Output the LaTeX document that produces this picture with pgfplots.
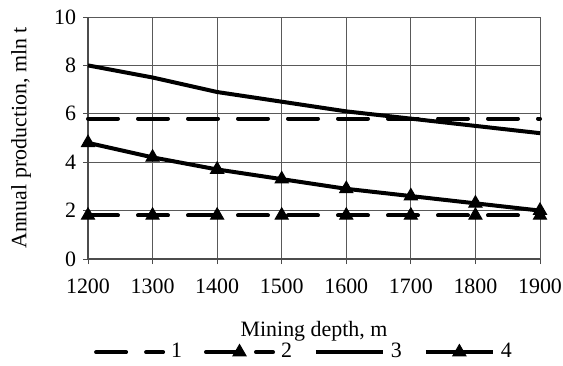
\documentclass[border=0pt]{standalone}
\usepackage{pgfplots}
\pgfplotsset{compat=1.18}
\usepackage{fontspec}
\setmainfont{Liberation Serif}
\begin{document}
\begin{tikzpicture}
\begin{axis}[
  scale only axis, width=226bp, height=121bp,
  xmin=1200, xmax=1900, ymin=0, ymax=10,
  xtick={1200,1300,...,1900}, ytick={0,2,...,10},
  axis lines=left, axis line style={-, gray!60!black, line width=0.6bp},
  grid=major, major grid style={gray!70!black, line width=0.5bp},
  tick align=outside, major tick length=2.5bp, tick style={gray!60!black, line width=0.5bp},
  /pgf/number format/assume math mode=true,
  /pgf/number format/1000 sep={},
  tick label style={font=\fontsize{11}{13}\selectfont},
  xticklabel style={yshift=-4bp},
  label style={font=\fontsize{11}{13}\selectfont},
  xlabel={Mining depth, m}, ylabel={Annual production, mln t},
  xlabel style={at={(axis description cs:0.5,-0.3)}, anchor=center},
  ylabel style={at={(axis description cs:-0.148,0.5)}, anchor=center},
  clip=false,
  legend columns=4,
  legend style={draw=none, fill=none, at={(axis description cs:0.48,-0.385)}, anchor=center, font=\fontsize{11}{13}\selectfont, inner sep=0pt,
    /tikz/every even column/.append style={column sep=9bp},
    /tikz/every odd column/.append style={column sep=1bp}},
  legend image code/.code={\draw[mark repeat=2,mark phase=2,#1] plot coordinates {(0bp,0bp) (16.75bp,0bp) (33.5bp,0bp)};},
]
\coordinate (bl) at (rel axis cs:0,0);
\addplot[black, line width=2bp, line cap=round, dash pattern=on 15bp off 10bp, no marks] coordinates {
(1200,5.8) (1300,5.8) (1400,5.8) (1500,5.8) (1600,5.8) (1700,5.8) (1800,5.8) (1900,5.8)};
\addlegendentry{1}
\addplot[black, line width=2bp, line cap=round, dash pattern=on 15bp off 10bp, mark=triangle*, mark size=3.8bp, mark options={solid, line width=0.5bp}] coordinates {
(1200,1.8) (1300,1.8) (1400,1.8) (1500,1.8) (1600,1.8) (1700,1.8) (1800,1.8) (1900,1.8)};
\addlegendentry{2}
\addplot[black, line width=2bp, no marks] coordinates {
(1200,8.0) (1300,7.5) (1400,6.9) (1500,6.5) (1600,6.1) (1700,5.8) (1800,5.5) (1900,5.2)};
\addlegendentry{3}
\addplot[black, line width=2bp, mark=triangle*, mark size=3.8bp, mark options={line width=0.5bp}] coordinates {
(1200,4.8) (1300,4.2) (1400,3.7) (1500,3.3) (1600,2.9) (1700,2.6) (1800,2.3) (1900,2.0)};
\addlegendentry{4}
\end{axis}
\pgfresetboundingbox
\path ([xshift=-44bp,yshift=-53.5bp]bl) rectangle ([xshift=237.5bp,yshift=129.5bp]bl);
\end{tikzpicture}
\end{document}
